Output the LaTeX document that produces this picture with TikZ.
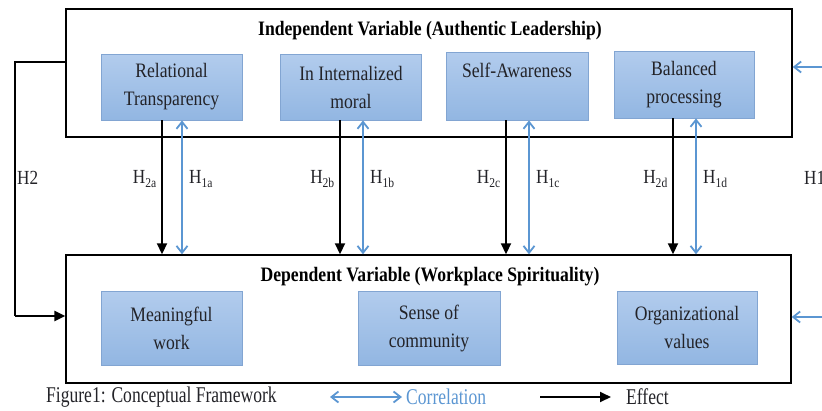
\documentclass[tikz,border=0pt]{standalone}
\usepackage{fontspec}
\setmainfont{Liberation Serif}[FakeStretch=0.86]
\newfontfamily\captionfont{Liberation Serif}[FakeStretch=0.78]
\usetikzlibrary{arrows.meta}
\definecolor{corrblue}{RGB}{91,150,210}
\definecolor{boxtop}{RGB}{178,204,237}
\definecolor{boxbot}{RGB}{146,182,226}
\definecolor{boxedge}{RGB}{130,165,210}
\definecolor{ink}{RGB}{35,35,40}
\tikzset{
  frame/.style={draw=black, line width=1.4pt, minimum width=726pt, minimum height=128pt, inner sep=0pt},
  dim/.style={draw=boxedge, line width=0.8pt, top color=boxtop, bottom color=boxbot,
    minimum width=141pt, inner sep=0pt, align=center, text=ink,
    font=\fontsize{20.5}{28}\selectfont},
  effect/.style={draw=black, line width=1.8pt, -{Triangle[length=11pt,width=10pt]}},
  corr/.style={draw=corrblue, line width=1.8pt, {Straight Barb[length=7pt,width=11pt]}-{Straight Barb[length=7pt,width=11pt]}},
  corrin/.style={draw=corrblue, line width=1.8pt, -{Straight Barb[length=7pt,width=11pt]}},
  hyp/.style={font=\fontsize{20}{22}\selectfont, inner sep=0pt, text=ink},
  title/.style={font=\fontsize{20.5}{22}\selectfont\bfseries, inner sep=0pt},
  legend/.style={font=\captionfont\fontsize{22.5}{24}\selectfont, inner sep=0pt, anchor=west, text=ink}
}
\newcommand{\hsub}[1]{H\textsubscript{\fontsize{13.5}{13.5}\selectfont #1}}
\begin{document}
\begin{tikzpicture}[x=1pt,y=-1pt]
\useasboundingbox (0,0) rectangle (822,410);
\clip (0,0) rectangle (822,410);

% outer frames
\node[frame] (top) at (429,73) {};
\node[frame, minimum width=725pt] (bot) at (428.5,319) {};
\node[title] (toptitle) at (430,31) {Independent Variable (Authentic Leadership)};
\node[title] (bottitle) at (430,277) {Dependent Variable (Workplace Spirituality)};

% dimensions of authentic leadership
\node[dim, minimum height=66pt] (rt) at (171.5,87) {Relational\\Transparency};
\node[dim, minimum height=66pt] (im) at (351,87) {In Internalized\\moral};
\node[dim, minimum width=142pt, minimum height=68pt] (sa) at (517,86) {\raisebox{-4pt}{Self-Awareness}\\\strut};
\node[dim, minimum width=140pt, minimum height=67pt] (bp) at (684,84.5) {Balanced\\processing};

% dimensions of workplace spirituality
\node[dim, minimum height=74pt] (mw) at (171.5,328) {Meaningful\\work};
\node[dim, minimum width=142pt, minimum height=74pt] (sc) at (429,328) {Sense of\\community};
\node[dim, minimum width=140pt, minimum height=73pt] (ov) at (687,327.5) {Organizational\\values};

% effect and correlation arrows per dimension
\foreach \n/\ex/\cx/\s in {rt/-9.5/10.5/a, im/-11/12/b, sa/-11/12/c, bp/-11/12/d}{
  \draw[effect] ([xshift=\ex pt]\n.south) -- ([xshift=\ex pt]\n.south |- bot.north);
  \draw[corr] ([xshift=\cx pt]\n.south |- bot.north) -- ([xshift=\cx pt]\n.south);
  \node[hyp, anchor=east] (h2\s) at ([xshift=\ex pt - 5pt]\n.south |- 0,179) {\hsub{2\s}};
  \node[hyp, anchor=west] (h1\s) at ([xshift=\cx pt + 7pt]\n.south |- 0,179) {\hsub{1\s}};
}

% overall effect H2
\coordinate (h2out) at ([yshift=11pt]top.west);
\coordinate (h2in) at ([yshift=3pt]bot.west);
\coordinate (h2bend) at (15,316);
\draw[line width=1.4pt] (h2out) -| (h2bend);
\draw[effect, line width=2.4pt] (h2bend) -- (h2in);
\node[hyp, anchor=west] (h2lab) at (17,178) {H2};

% overall correlation H1
\coordinate (h1top) at (824,67);
\coordinate (h1bot) at (824,317);
\draw[corrin] (h1top) -- (top.east |- h1top);
\draw[corrin] (h1bot) -- (bot.east |- h1bot);
\node[hyp, anchor=west] (h1lab) at (804,178) {H1};

% legend
\node[legend] (fig) at (46,397) {Figure1: Conceptual Framework};
\coordinate (ca) at (330,397);
\coordinate (cb) at (402,397);
\draw[corr] (ca) -- (cb);
\node[legend, text=corrblue] (corrlab) at (406,397) {Correlation};
\coordinate (ea) at (540,397);
\coordinate (eb) at (611,397);
\draw[effect] (ea) -- (eb);
\node[legend] (efflab) at (626,397) {Effect};
\end{tikzpicture}
\end{document}
